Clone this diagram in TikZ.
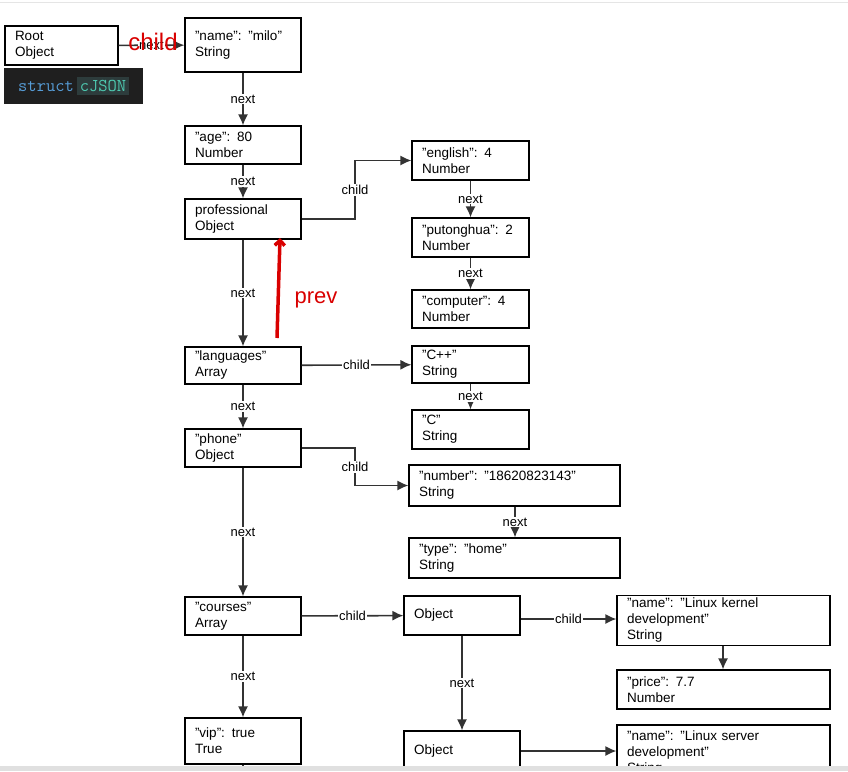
\documentclass[tikz,border=0pt]{standalone}
\usepackage{fontspec}
\setmainfont{Liberation Sans}
\usetikzlibrary{arrows.meta, positioning}

\tikzset{
  box/.style={draw, line width=1.1pt, align=left, inner sep=3pt, font=\fontsize{13.5}{16}\selectfont},
  link/.style={line width=1.6pt, draw=black!80, -{Latex[length=11pt,width=10pt]}},
  lbl/.style={fill=white, inner sep=1pt, font=\fontsize{13}{15}\selectfont},
}
% box from its corners: name, left, top, right, bottom, text
\newcommand{\jbox}[6]{%
  \node[box, minimum width={#4-#2}, minimum height={#5-#3}, text width={#4-#2-20}]
    (#1) at ({(#2+#4)/2},{(#3+#5)/2}) {#6};}

\begin{document}
\begin{tikzpicture}[x=1pt, y=-1pt]
  \useasboundingbox (0,0) rectangle (848,771);
  \begin{scope}
  \clip (0,0) rectangle (848,766);

  % left column
  \jbox{root}{5}{26}{118}{65}{Root\\Object}
  \jbox{name}{185}{18}{301}{72}{"name": "milo"\\String}
  \jbox{age}{185}{126}{301}{164}{"age": 80\\Number}
  \jbox{prof}{185}{199}{301}{239}{professional\\Object}
  \jbox{lang}{185}{347}{301}{384}{"languages"\\Array}
  \jbox{phone}{185}{429}{301}{467}{"phone"\\Object}
  \jbox{courses}{185}{597}{301}{635}{"courses"\\Array}
  \jbox{vip}{185}{718}{301}{764}{"vip": true\\True}

  % children
  \jbox{english}{412}{141}{529}{180}{"english": 4\\Number}
  \jbox{putong}{412}{218}{529}{257}{"putonghua": 2\\Number}
  \jbox{computer}{412}{290}{529}{328}{"computer": 4\\Number}
  \jbox{cpp}{412}{346}{529}{383}{"C++"\\String}
  \jbox{clang}{412}{410}{529}{449}{"C"\\String}
  \jbox{number}{409}{465}{620}{506}{"number": "18620823143"\\String}
  \jbox{type}{409}{538}{620}{578}{"type": "home"\\String}
  \jbox{objA}{404}{596}{520}{635}{Object}
  \jbox{objB}{404}{731}{520}{771}{Object}
  \jbox{kernel}{617}{597}{830}{644}{"name": "Linux kernel\\development"\\String}
  \jbox{price}{617}{670}{830}{709}{"price": 7.7\\Number}
  \jbox{server}{617}{725}{830}{780}{"name": "Linux server\\development"\\String}

  % next links
  \draw[link] (root) -- node[lbl] {next} (name);
  \draw[link] (name) -- node[lbl] {next} (age);
  \draw[link] (age) -- node[lbl] {next} (prof);
  \draw[link] (prof) -- node[lbl] {next} (lang);
  \draw[link] (lang) -- node[lbl] {next} (phone);
  \draw[link] (phone) -- node[lbl] {next} (courses);
  \draw[link] (courses) -- node[lbl] {next} (vip);
  \draw[link] (vip) -- (243,790);
  \draw[link] (english) -- node[lbl] {next} (putong);
  \draw[link] (putong) -- node[lbl] {next} (computer);
  \draw[link] (cpp) -- node[lbl] {next} (clang);
  \draw[link] (number.south -| 515,0) -- node[lbl] {next} (type.north -| 515,0);
  \draw[link] (objA) -- node[lbl] {next} (objB);
  \draw[link] (kernel.south -| 723,0) -- (price.north -| 723,0);

  % child links
  \draw[link] (prof.east) -- (355,219) |- node[lbl, pos=0.25] {child} (english.west);
  \draw[link] (lang) -- node[lbl, pos=0.5] {child} (cpp);
  \draw[link] (phone.east) -- (355,448) |- node[lbl, pos=0.25] {child} (number.west);
  \draw[link] (courses) -- node[lbl] {child} (objA);
  \draw[link] (objA.east |- 0,619) -- node[lbl] {child} (kernel.west |- 0,619);
  \draw[link] (objB) -- (server.west |- objB);

  % handwritten notes
  \node[text=red!85!black, font=\fontsize{24}{24}\selectfont] (childnote) at (153,42) {child};
  \draw[red!85!black, line width=3.5pt, -{Straight Barb[length=5pt]}] (277,338) -- (280,238);
  \node[text=red!85!black, font=\fontsize{22}{22}\selectfont] (prevnote) at (316,300) {prev};

  % code snippet
  \node[fill=black!88, minimum width=139, minimum height=36, anchor=north west,
        font=\ttfamily\fontsize{18}{18}\selectfont, inner sep=0pt] (code) at (4,68)
    {\textcolor[HTML]{569CD6}{struct}\,\colorbox[HTML]{2D3C3C}{\textcolor[HTML]{4EC9B0}{cJSON}}};
  \end{scope}
  \fill[black!12] (0,766) rectangle (848,771);
  \draw[black!10] (0,2) -- (848,2);
\end{tikzpicture}
\end{document}
